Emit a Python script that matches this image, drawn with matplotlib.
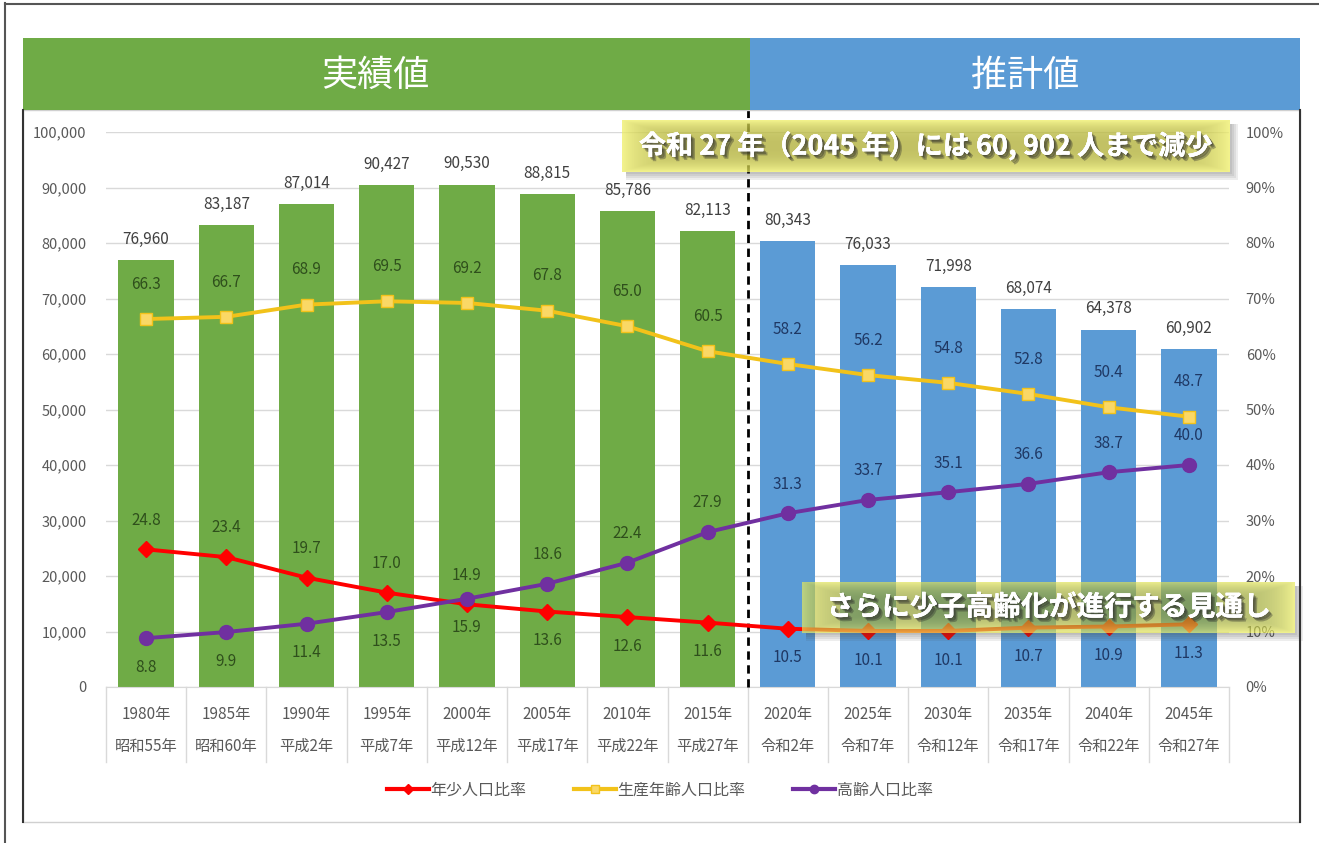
import numpy as np
import matplotlib
matplotlib.use("Agg")
import matplotlib.pyplot as plt
import matplotlib.patheffects as pe
from matplotlib.patches import Rectangle
from matplotlib.lines import Line2D
import matplotlib.transforms as mtransforms

plt.rcParams['font.family'] = ['Noto Sans CJK JP', 'DejaVu Sans']

years = ["1980年", "1985年", "1990年", "1995年", "2000年", "2005年", "2010年",
         "2015年", "2020年", "2025年", "2030年", "2035年", "2040年", "2045年"]
eras = ["昭和55年", "昭和60年", "平成2年", "平成7年", "平成12年", "平成17年", "平成22年",
        "平成27年", "令和2年", "令和7年", "令和12年", "令和17年", "令和22年", "令和27年"]
total = [76960, 83187, 87014, 90427, 90530, 88815, 85786, 82113,
         80343, 76033, 71998, 68074, 64378, 60902]
young = [24.8, 23.4, 19.7, 17.0, 14.9, 13.6, 12.6, 11.6, 10.5, 10.1, 10.1, 10.7, 10.9, 11.3]
working = [66.3, 66.7, 68.9, 69.5, 69.2, 67.8, 65.0, 60.5, 58.2, 56.2, 54.8, 52.8, 50.4, 48.7]
elderly = [8.8, 9.9, 11.4, 13.5, 15.9, 18.6, 22.4, 27.9, 31.3, 33.7, 35.1, 36.6, 38.7, 40.0]
n_actual = 8
series_names = ["年少人口比率", "生産年齢人口比率", "高齢人口比率"]
header_texts = ["実績値", "推計値"]
note1 = "令和 27 年（2045 年）には 60, 902 人まで減少"
note2 = "さらに少子高齢化が進行する見通し"

W, H = 1319, 843
fig = plt.figure(figsize=(W / 100, H / 100), dpi=100)
fig.patch.set_facecolor("white")

def fx(px):
    return px / W

def fy(py):
    return 1 - py / H

GREEN = "#6fab46"
BLUE = "#5b9bd5"
RED = "#ff0000"
YEL = "#f2c21a"
PUR = "#7030a0"
GRAY = "#595959"

# frames
fig.add_artist(Line2D([fx(5), fx(5)], [fy(3), fy(843)], color="#555555", lw=1.5))
fig.add_artist(Line2D([fx(5), fx(1319)], [fy(4), fy(4)], color="#555555", lw=1.5))
fig.add_artist(Rectangle((fx(23), fy(822)), fx(1300) - fx(23), fy(110) - fy(822),
                         fill=False, edgecolor="#d0d0d0", lw=1.0))
fig.add_artist(Line2D([fx(23), fx(23)], [fy(110), fy(822)], color="#333333", lw=1.5))
fig.add_artist(Line2D([fx(1300), fx(1300)], [fy(110), fy(822)], color="#333333", lw=1.5))

# header bands
fig.add_artist(Rectangle((fx(23), fy(110)), fx(750) - fx(23), fy(38) - fy(110),
                         facecolor=GREEN, edgecolor="none"))
fig.add_artist(Rectangle((fx(750), fy(110)), fx(1300) - fx(750), fy(38) - fy(110),
                         facecolor=BLUE, edgecolor="none"))
fig.text(fx(375), fy(76), header_texts[0], color="white", fontsize=26,
         ha="center", va="center")
fig.text(fx(1025), fy(76), header_texts[1], color="white", fontsize=26,
         ha="center", va="center")

ax = fig.add_axes([fx(106), fy(687), fx(1229) - fx(106), fy(132) - fy(687)])
ax.set_facecolor("none")
x = np.arange(len(total))
bar_colors = [GREEN if i < n_actual else BLUE for i in range(len(total))]
ax.bar(x, total, width=0.69, color=bar_colors, zorder=2)
ax.set_xlim(-0.5, len(total) - 0.5)
ax.set_ylim(0, 100000)
ax.set_yticks(np.arange(0, 100001, 10000))
ax.set_yticklabels([f"{v:,}" for v in range(0, 100001, 10000)], color=GRAY, fontsize=10.5)
ax.yaxis.grid(True, color="#d9d9d9", lw=1.0, zorder=0)
ax.set_axisbelow(True)
ax.tick_params(axis="y", length=0, pad=14)
ax.set_xticks([])
for s in ["top", "right", "left"]:
    ax.spines[s].set_visible(False)
ax.spines["bottom"].set_color("#d9d9d9")

for i, v in enumerate(total):
    ax.annotate(f"{v:,}", (i, v), xytext=(0, 15), textcoords="offset points",
                ha="center", va="center", fontsize=11, color="#404040")

ax2 = ax.twinx()
ax2.set_ylim(0, 100)
ax2.set_yticks(np.arange(0, 101, 10))
ax2.set_yticklabels([f"{v}%" for v in range(0, 101, 10)], color=GRAY, fontsize=10.5)
ax2.tick_params(axis="y", length=0, pad=12)
for s in ["top", "right", "left", "bottom"]:
    ax2.spines[s].set_visible(False)

ax2.plot(x, young, color=RED, lw=2.8, marker="D", ms=8, zorder=4)
ax2.plot(x, working, color=YEL, lw=2.8, marker="s", ms=9, mfc="#fad866", mec=YEL, zorder=4)
ax2.plot(x, elderly, color=PUR, lw=2.8, marker="o", ms=10, zorder=4)

def lab_color(i):
    return "#2f4f1c" if i < n_actual else "#1f3864"

for i in range(len(x)):
    ax2.annotate(f"{working[i]:.1f}", (i, working[i]), xytext=(0, 25),
                 textcoords="offset points", ha="center", va="center",
                 fontsize=11, color=lab_color(i), zorder=5)
    dy_y = 21 if i <= 4 else -21
    ax2.annotate(f"{young[i]:.1f}", (i, young[i]), xytext=(0, dy_y),
                 textcoords="offset points", ha="center", va="center",
                 fontsize=11, color=lab_color(i), zorder=5)
    dy_e = -21 if i <= 4 else 21
    ax2.annotate(f"{elderly[i]:.1f}", (i, elderly[i]), xytext=(0, dy_e),
                 textcoords="offset points", ha="center", va="center",
                 fontsize=11, color=lab_color(i), zorder=5)

# category label area
bt = mtransforms.blended_transform_factory(ax.transData, fig.transFigure)
for b in np.arange(-0.5, len(total), 1.0):
    ax.add_line(Line2D([b, b], [fy(687), fy(762)], transform=bt, color="#d9d9d9",
                       lw=1.0, clip_on=False))
for i in range(len(total)):
    ax.text(i, fy(714), years[i], transform=bt, ha="center", va="center",
            fontsize=11, color=GRAY)
    ax.text(i, fy(746), eras[i], transform=bt, ha="center", va="center",
            fontsize=11, color=GRAY)

# dashed divider
ax.add_line(Line2D([n_actual - 0.5, n_actual - 0.5], [fy(687), fy(110)], transform=bt,
                   color="black", lw=2.0, ls=(0, (3, 2)), clip_on=False, zorder=6))

# legend
handles = [Line2D([], [], color=RED, lw=3, marker="D", ms=5),
           Line2D([], [], color=YEL, lw=3, marker="s", ms=6, mfc="#fad866"),
           Line2D([], [], color=PUR, lw=3, marker="o", ms=6)]
fig.legend(handles, series_names, loc="center", bbox_to_anchor=(fx(660), fy(790)),
           ncol=3, frameon=False, fontsize=11.5, handlelength=2.6, handletextpad=0.1,
           columnspacing=3.0, labelcolor=GRAY)

# annotation boxes: semi-transparent yellow gradient with shadow below/right
def grad_box(x0, y0, x1, y1, c_center, c_edge, alpha, text, fs):
    for k in range(4):
        o = 2 + k * 2
        # bottom strip
        fig.add_artist(Rectangle((fx(x0 + 4), fy(y1 + o)), fx(x1 + o) - fx(x0 + 4),
                                 fy(y1) - fy(y1 + o),
                                 facecolor="#404040", alpha=0.09, edgecolor="none"))
        # right strip
        fig.add_artist(Rectangle((fx(x1), fy(y1)), fx(x1 + o) - fx(x1), fy(y0 + 4) - fy(y1),
                                 facecolor="#404040", alpha=0.09, edgecolor="none"))
    bax = fig.add_axes([fx(x0), fy(y1), fx(x1) - fx(x0), fy(y0) - fy(y1)])
    bax.set_axis_off()
    bax.patch.set_alpha(0)
    nx, ny = 300, 60
    u = np.linspace(-1, 1, nx)[None, :]
    v = np.linspace(-1, 1, ny)[:, None]
    t = np.maximum(np.abs(u) ** 10, np.abs(v) ** 2.5)
    cc = np.array(matplotlib.colors.to_rgb(c_center))
    ce = np.array(matplotlib.colors.to_rgb(c_edge))
    img = cc[None, None, :] * (1 - t[..., None]) + ce[None, None, :] * t[..., None]
    rgba = np.concatenate([img, np.full((ny, nx, 1), alpha)], axis=2)
    bax.imshow(rgba, aspect="auto", extent=(0, 1, 0, 1))
    bax.set_xlim(0, 1)
    bax.set_ylim(0, 1)
    shadows = [pe.withSimplePatchShadow(offset=(d, -d), shadow_rgbFace="#2a2a2a", alpha=0.35)
               for d in (1.0, 2.0, 3.0)]
    bax.text(0.5, 0.5, text, ha="center", va="center", color="white",
             fontsize=fs, fontweight="bold", path_effects=shadows + [pe.Normal()])

grad_box(622, 120, 1230, 172, "#aead30", "#eeee66", 0.75, note1, 19.5)
grad_box(802, 582, 1295, 633, "#8e9a2c", "#e8ea5a", 0.68, note2, 20)

fig.savefig("out.png", dpi=100, facecolor="white")
